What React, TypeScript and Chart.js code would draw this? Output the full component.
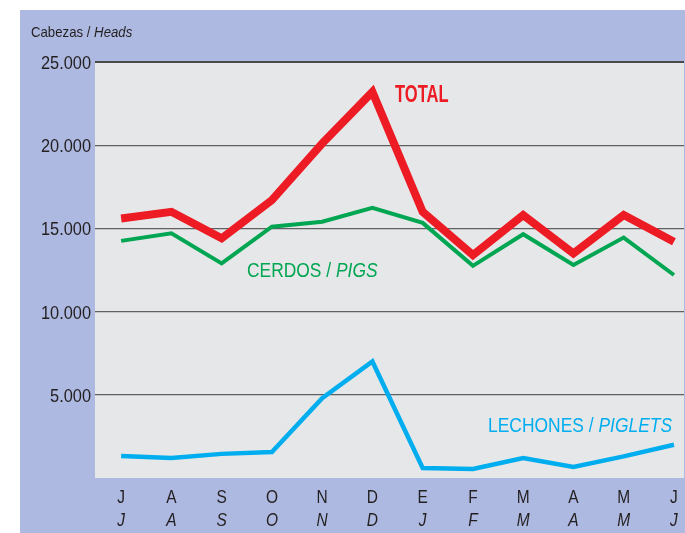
import React, { useEffect, useRef } from "react";
import { Chart, registerables } from "chart.js";

Chart.register(...registerables);

const monthsEs = ["J", "A", "S", "O", "N", "D", "E", "F", "M", "A", "M", "J"];
const monthsEn = ["J", "A", "S", "O", "N", "D", "J", "F", "M", "A", "M", "J"];
const total = [15600, 16000, 14400, 16700, 20100, 23200, 16000, 13400, 15800, 13500, 15800, 14200];
const cerdos = [14250, 14700, 12900, 15100, 15400, 16230, 15330, 12750, 14650, 12800, 14450, 12200];
const lechones = [1320, 1200, 1450, 1560, 4800, 7000, 600, 540, 1200, 660, 1300, 2000];
const yTicks = [0, 5000, 10000, 15000, 20000, 25000];

const FONT = "'Liberation Sans', Arial, sans-serif";
const PANEL = "#adb9e0";
const PLOT = "#e6e7e9";
const RED = "#ed1c24";
const GREEN = "#00a651";
const BLUE = "#00aeef";
const TEXT = "#231f20";

const fmt = (v: number) => (v === 0 ? "" : String(v).replace(/\B(?=(\d{3})+(?!\d))/g, "."));

// draws horizontally condensed text; returns drawn width
function drawText(ctx: any, text: string, x: number, y: number, font: string, sx: number, align: "left" | "center" | "right" = "left") {
  ctx.save();
  ctx.font = font;
  ctx.textAlign = align;
  ctx.textBaseline = "alphabetic";
  ctx.translate(x, y);
  ctx.scale(sx, 1);
  ctx.fillText(text, 0, 0);
  const w = ctx.measureText(text).width * sx;
  ctx.restore();
  return w;
}

const bgPlugin = {
  id: "bg",
  beforeDraw(chart: any) {
    const { ctx, chartArea } = chart;
    ctx.save();
    ctx.fillStyle = "#ffffff";
    ctx.fillRect(0, 0, chart.width, chart.height);
    ctx.fillStyle = PANEL;
    ctx.fillRect(20, 10, chart.width - 20, chart.height - 10);
    ctx.fillStyle = PLOT;
    ctx.fillRect(chartArea.left, chartArea.top, chartArea.right - chartArea.left, chartArea.bottom - chartArea.top);
    ctx.restore();
  },
};

const textPlugin = {
  id: "texts",
  afterDraw(chart: any) {
    const { ctx } = chart;
    const xs = chart.scales.x;
    const ys = chart.scales.y;
    ctx.save();
    ctx.fillStyle = TEXT;
    // y labels
    yTicks.forEach((v) => {
      if (v === 0) return;
      drawText(ctx, fmt(v), 91, ys.getPixelForValue(v) + 7, `19px ${FONT}`, 0.86, "right");
    });
    // x labels
    monthsEs.forEach((m, i) => {
      const x = xs.getPixelForValue(i);
      drawText(ctx, m, x, 503, `18px ${FONT}`, 0.86, "center");
      drawText(ctx, monthsEn[i], x, 526, `italic 18px ${FONT}`, 0.86, "center");
    });
    // axis title
    const w = drawText(ctx, "Cabezas / ", 31, 37, `15px ${FONT}`, 0.88);
    drawText(ctx, "Heads", 31 + w, 37, `italic 15px ${FONT}`, 0.88);
    // series labels
    ctx.fillStyle = RED;
    drawText(ctx, "TOTAL", 395, 102, `bold 23px ${FONT}`, 0.72);
    ctx.fillStyle = GREEN;
    const w2 = drawText(ctx, "CERDOS / ", 247, 277, `20px ${FONT}`, 0.87);
    drawText(ctx, "PIGS", 247 + w2, 277, `italic 20px ${FONT}`, 0.87);
    ctx.fillStyle = BLUE;
    const w3 = drawText(ctx, "LECHONES / ", 488, 432, `21px ${FONT}`, 0.83);
    drawText(ctx, "PIGLETS", 488 + w3, 432, `italic 21px ${FONT}`, 0.83);
    ctx.restore();
  },
};

export default function App() {
  const ref = useRef<HTMLCanvasElement>(null);
  useEffect(() => {
    if (!ref.current) return;
    const mk = (data: number[], color: string, width: number) => ({
      data: data.map((v, i) => ({ x: i, y: v })),
      borderColor: color,
      borderWidth: width,
      pointRadius: 0,
      tension: 0,
      borderJoinStyle: "miter" as const,
      borderCapStyle: "butt" as const,
      fill: false,
    });
    const chart = new Chart(ref.current, {
      type: "line",
      data: {
        datasets: [mk(lechones, BLUE, 4.5), mk(cerdos, GREEN, 4), mk(total, RED, 8)],
      },
      options: {
        animation: false,
        responsive: false,
        layout: { padding: { left: 0, top: 62, right: 1, bottom: 55 } },
        plugins: { legend: { display: false }, tooltip: { enabled: false } },
        scales: {
          x: {
            type: "linear",
            min: -0.52,
            max: 11.2,
            ticks: { display: false },
            grid: { display: false },
            border: { display: false },
            afterFit: (s: any) => { s.height = 0; },
          },
          y: {
            min: 0,
            max: 25000,
            afterBuildTicks: (s: any) => { s.ticks = yTicks.map((v) => ({ value: v })); },
            afterFit: (s: any) => { s.width = 95; },
            ticks: { display: false },
            grid: {
              drawTicks: false,
              color: (c: any) => (c.tick && c.tick.value === 0 ? "rgba(0,0,0,0)" : c.tick && c.tick.value === 25000 ? "#4a4a4a" : "#606060"),
              lineWidth: (c: any) => (c.tick && c.tick.value === 25000 ? 2 : 1.3),
            },
            border: { display: false },
          },
        },
      },
      plugins: [bgPlugin, textPlugin],
    });
    return () => chart.destroy();
  }, []);
  return (
    <div style={{ position: "absolute", left: 0, top: 0, width: 685, height: 533 }}>
      <canvas ref={ref} width={685} height={533} style={{ width: 685, height: 533, display: "block" }} />
    </div>
  );
}
